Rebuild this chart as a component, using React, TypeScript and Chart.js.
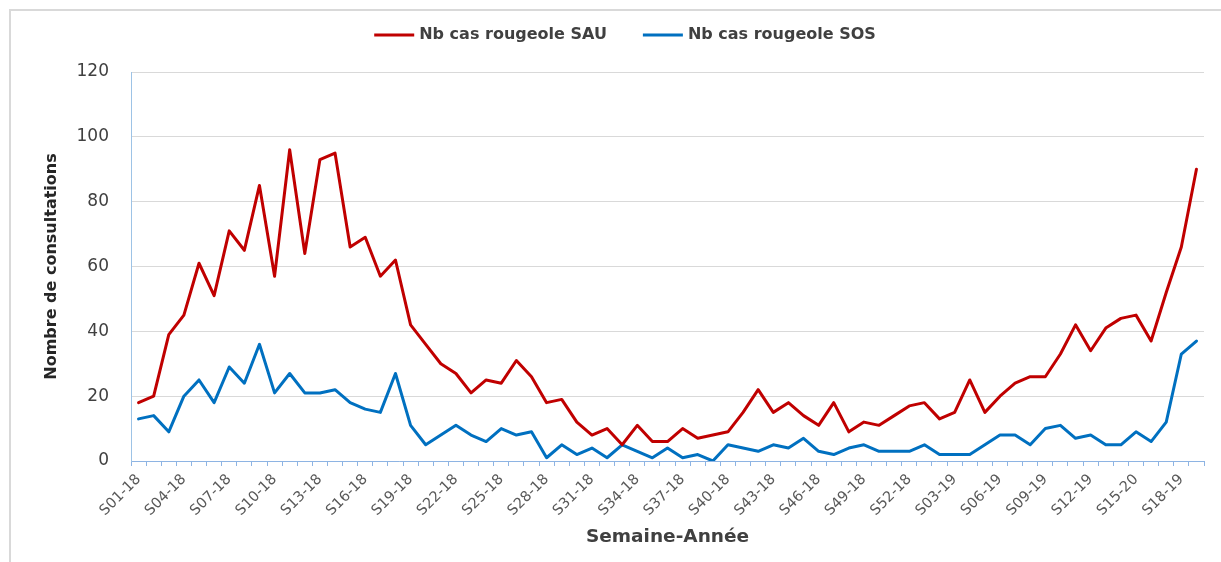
import React, { useEffect, useRef } from "react";
import { Chart, registerables } from "chart.js";

Chart.register(...registerables);

const weekLabels = [
  "S01-18", "S02-18", "S03-18", "S04-18", "S05-18", "S06-18", "S07-18", "S08-18", "S09-18", "S10-18",
  "S11-18", "S12-18", "S13-18", "S14-18", "S15-18", "S16-18", "S17-18", "S18-18", "S19-18", "S20-18",
  "S21-18", "S22-18", "S23-18", "S24-18", "S25-18", "S26-18", "S27-18", "S28-18", "S29-18", "S30-18",
  "S31-18", "S32-18", "S33-18", "S34-18", "S35-18", "S36-18", "S37-18", "S38-18", "S39-18", "S40-18",
  "S41-18", "S42-18", "S43-18", "S44-18", "S45-18", "S46-18", "S47-18", "S48-18", "S49-18", "S50-18",
  "S51-18", "S52-18", "S01-19", "S02-19", "S03-19", "S04-19", "S05-19", "S06-19", "S07-19", "S08-19",
  "S09-19", "S10-19", "S11-19", "S12-19", "S13-19", "S14-19", "S15-20", "S16-19", "S17-19", "S18-19",
  "S19-19",
];

const sauCases = [
  18, 20, 39, 45, 61, 51, 71, 65, 85, 57,
  96, 64, 93, 95, 66, 69, 57, 62, 42, 36,
  30, 27, 21, 25, 24, 31, 26, 18, 19, 12,
  8, 10, 5, 11, 6, 6, 10, 7, 8, 9,
  15, 22, 15, 18, 14, 11, 18, 9, 12, 11,
  14, 17, 18, 13, 15, 25, 15, 20, 24, 26,
  26, 33, 42, 34, 41, 44, 45, 37, 52, 66,
  90,
];

const sosCases = [
  13, 14, 9, 20, 25, 18, 29, 24, 36, 21,
  27, 21, 21, 22, 18, 16, 15, 27, 11, 5,
  8, 11, 8, 6, 10, 8, 9, 1, 5, 2,
  4, 1, 5, 3, 1, 4, 1, 2, 0, 5,
  4, 3, 5, 4, 7, 3, 2, 4, 5, 3,
  3, 3, 5, 2, 2, 2, 5, 8, 8, 5,
  10, 11, 7, 8, 5, 5, 9, 6, 12, 33,
  37,
];

const seriesNames = ["Nb cas rougeole SAU", "Nb cas rougeole SOS"];
const seriesColors = ["#C00000", "#0070C0"];
const yTicks = [0, 20, 40, 60, 80, 100, 120];

const FONT = '"DejaVu Sans", "Open Sans", sans-serif';

const framePlugin = {
  id: "frame",
  beforeDraw(chart: any) {
    const ctx = chart.ctx as CanvasRenderingContext2D;
    ctx.save();
    ctx.fillStyle = "#FFFFFF";
    ctx.fillRect(0, 0, chart.width, chart.height);
    ctx.strokeStyle = "#D9D9D9";
    ctx.lineWidth = 2;
    ctx.beginPath();
    ctx.moveTo(10, chart.height);
    ctx.lineTo(10, 10);
    ctx.lineTo(chart.width, 10);
    ctx.stroke();
    ctx.restore();
  },
};

const legendPlugin = {
  id: "customLegend",
  afterDraw(chart: any) {
    const ctx = chart.ctx as CanvasRenderingContext2D;
    ctx.save();
    ctx.font = `bold 16px ${FONT}`;
    const lineLen = 40;
    const gapLT = 5;
    const gapItems = 36;
    const items = chart.data.datasets.map((ds: any) => ({
      text: ds.label as string,
      color: ds.borderColor as string,
      w: ctx.measureText(ds.label).width,
    }));
    const total =
      items.reduce((s: number, it: any) => s + lineLen + gapLT + it.w, 0) +
      gapItems * (items.length - 1);
    let x = 625 - total / 2;
    const y = 35;
    for (const it of items) {
      ctx.strokeStyle = it.color;
      ctx.lineWidth = 3;
      ctx.beginPath();
      ctx.moveTo(x, y);
      ctx.lineTo(x + lineLen, y);
      ctx.stroke();
      ctx.fillStyle = "#404040";
      ctx.textAlign = "left";
      ctx.textBaseline = "middle";
      ctx.fillText(it.text, x + lineLen + gapLT, y);
      x += lineLen + gapLT + it.w + gapItems;
    }
    ctx.restore();
  },
};

export default function App() {
  const canvasRef = useRef<HTMLCanvasElement | null>(null);

  useEffect(() => {
    const canvas = canvasRef.current;
    if (!canvas) return;
    const chart = new Chart(canvas, {
      type: "line",
      data: {
        labels: weekLabels,
        datasets: [
          {
            label: seriesNames[0],
            data: sauCases,
            borderColor: seriesColors[0],
            backgroundColor: seriesColors[0],
            borderWidth: 3,
            pointRadius: 0,
            tension: 0,
            borderJoinStyle: "round",
            borderCapStyle: "round",
          },
          {
            label: seriesNames[1],
            data: sosCases,
            borderColor: seriesColors[1],
            backgroundColor: seriesColors[1],
            borderWidth: 3,
            pointRadius: 0,
            tension: 0,
            borderJoinStyle: "round",
            borderCapStyle: "round",
          },
        ],
      },
      options: {
        responsive: false,
        animation: false,
        events: [],
        layout: { padding: { top: 72, left: 0, right: 17, bottom: 0 } },
        plugins: {
          legend: { display: false },
          tooltip: { enabled: false },
        },
        scales: {
          x: {
            type: "category",
            offset: true,
            afterFit(scale: any) {
              scale.height = 101;
            },
            grid: {
              display: true,
              drawOnChartArea: false,
              drawTicks: true,
              tickLength: 5,
              offset: true,
              color: "#8EB4E3",
            },
            border: { display: true, color: "#8EB4E3", width: 1 },
            ticks: {
              autoSkip: false,
              maxRotation: 45,
              minRotation: 45,
              padding: 5,
              color: "#595959",
              font: { family: FONT, size: 14.5 },
              callback(_v: any, i: number) {
                return i % 3 === 0 ? weekLabels[i] : "";
              },
            },
            title: {
              display: true,
              text: "Semaine-Année",
              color: "#404040",
              font: { family: FONT, size: 18.5, weight: "bold" },
              padding: { top: 0, bottom: 14 },
            },
          },
          y: {
            min: yTicks[0],
            max: yTicks[yTicks.length - 1],
            afterFit(scale: any) {
              scale.width = 131;
            },
            afterBuildTicks(scale: any) {
              scale.ticks = yTicks.map((v) => ({ value: v }));
            },
            grid: {
              color: "#D9D9D9",
              lineWidth: 1,
              drawTicks: false,
            },
            border: { display: true, color: "#9DC3E6", width: 1 },
            ticks: {
              padding: 22,
              color: "#404040",
              font: { family: FONT, size: 17 },
            },
            title: {
              display: true,
              text: "Nombre de consultations",
              color: "#262626",
              font: { family: FONT, size: 16, weight: "bold" },
              padding: { top: 42, bottom: 0 },
            },
          },
        },
      },
      plugins: [framePlugin, legendPlugin],
    } as any);
    return () => chart.destroy();
  }, []);

  return (
    <div
      style={{
        position: "fixed",
        left: 0,
        top: 0,
        width: 1221,
        height: 562,
        overflow: "hidden",
        background: "#ffffff",
      }}
    >
      <canvas
        ref={canvasRef}
        width={1221}
        height={562}
        style={{ display: "block", width: 1221, height: 562 }}
      />
    </div>
  );
}
